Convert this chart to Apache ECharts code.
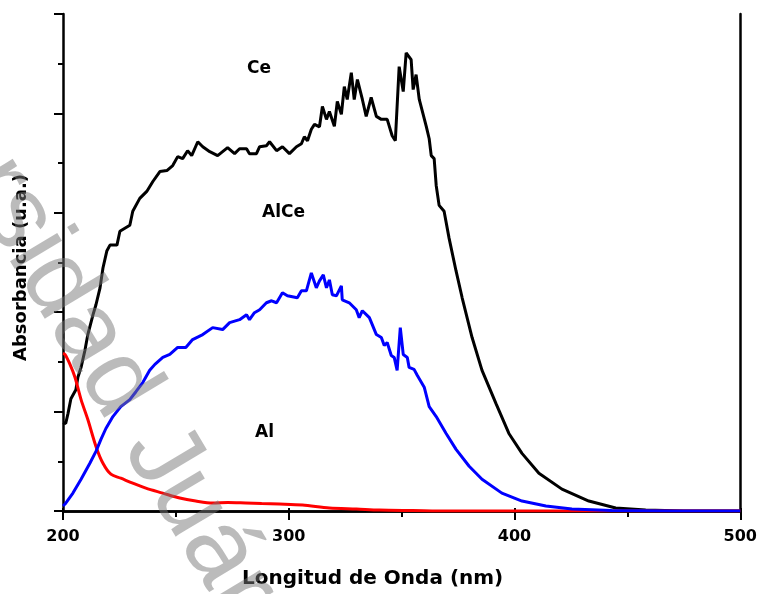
<!DOCTYPE html>
<html>
<head>
<meta charset="utf-8">
<script src="https://cdn.jsdelivr.net/npm/echarts@6/dist/echarts.min.js"></script>
<style>
html,body{margin:0;padding:0;background:#fff;}
#chart{width:760px;height:594px;}
</style>
</head>
<body>
<div id="chart"></div>
<script>
// Wavelength (nm) and absorbance (a.u.)
const ceX = [200,201.2,202.2,203.5,205.7,206.6,208.0,209.7,211.0,213.3,214.6,216.4,217.7,219.4,220.8,223.9,225.2,229.6,230.9,234.0,237.1,239.8,242.9,246.0,248.6,250.8,253.0,255.2,257.0,259.7,261.9,265.0,268.5,272.9,276.0,278.2,281.3,282.6,285.7,287.1,290.1,291.5,294.6,297.2,300.3,303.4,305.6,306.9,308.3,310.0,311.4,313.6,314.9,316.7,318.0,320.2,321.5,323.3,324.6,325.9,327.7,329.0,330.4,332.6,334.3,336.5,338.8,341.0,343.6,345.8,347.2,348.9,350.7,352.0,354.2,355.1,356.4,357.8,360.9,362.2,363.1,364.4,365.3,366.6,368.8,371.0,374.1,376.8,381.2,385.6,391.8,397.5,403.3,410.8,421.0,432.9,444.8,458.1,475,500];
const ceY = [1.78,1.76,1.96,2.26,2.44,2.69,2.89,3.23,3.55,3.95,4.15,4.49,4.89,5.23,5.35,5.35,5.63,5.75,6.03,6.29,6.43,6.63,6.83,6.85,6.95,7.13,7.09,7.25,7.15,7.43,7.33,7.23,7.15,7.31,7.19,7.29,7.29,7.19,7.19,7.33,7.35,7.43,7.25,7.33,7.19,7.33,7.39,7.53,7.45,7.68,7.78,7.73,8.14,7.88,8.04,7.74,8.24,7.98,8.54,8.28,8.82,8.28,8.68,8.28,7.94,8.32,7.94,7.88,7.88,7.55,7.45,8.94,8.44,9.22,9.08,8.48,8.78,8.28,7.74,7.49,7.15,7.09,6.55,6.15,6.03,5.49,4.83,4.29,3.49,2.83,2.16,1.56,1.16,0.76,0.44,0.20,0.06,0.02,0.0,0.0];

const alceX = [200,200.9,204.4,208.0,211.9,214.6,216.8,219.0,222.1,225.6,229.6,232.3,235.4,238.4,240.7,244.2,247.3,250.8,254.4,257.4,261.9,266.3,270.7,273.8,278.2,281.3,282.6,284.8,287.1,290.1,292.4,294.6,297.2,299.4,303.8,305.6,307.8,310.0,312.2,313.6,315.3,316.7,318.0,319.3,321.1,323.3,323.7,326.8,329.9,331.2,332.6,335.7,338.8,341.0,342.3,343.6,345.4,346.7,348.0,349.4,350.7,352.5,353.3,355.5,356.9,360.0,362.2,365.3,369.7,374.1,379.9,385.6,394.4,403.3,413.9,425.4,443.0,470,500];
const alceY = [0.10,0.14,0.36,0.64,0.96,1.20,1.44,1.66,1.90,2.10,2.24,2.40,2.59,2.83,2.95,3.09,3.15,3.29,3.29,3.45,3.55,3.69,3.65,3.79,3.85,3.95,3.85,3.99,4.05,4.19,4.23,4.19,4.39,4.33,4.29,4.43,4.43,4.79,4.49,4.63,4.75,4.49,4.65,4.35,4.33,4.53,4.25,4.19,4.05,3.89,4.03,3.89,3.55,3.49,3.33,3.39,3.13,3.09,2.83,3.69,3.15,3.09,2.89,2.85,2.73,2.49,2.10,1.90,1.56,1.24,0.90,0.64,0.36,0.20,0.10,0.04,0.01,0.0,0.0];

const alX = [200,200.9,203.1,205.3,208.0,211.0,214.6,217.7,221.2,225.6,230.9,236.7,244.2,251.7,258.8,266.3,273.0,280.9,288.0,295.9,306.1,318.0,330.0,340.1,355.0,371.0,420,500];
const alY = [3.17,3.15,2.95,2.69,2.24,1.84,1.30,0.96,0.74,0.66,0.56,0.46,0.36,0.26,0.20,0.16,0.17,0.16,0.15,0.14,0.12,0.06,0.04,0.02,0.01,0.0,0.0,0.0];

const xTicks = [200,300,400,500];
const seriesNames = ['Ce','AlCe','Al'];

function pairs(xs, ys){ return xs.map((x,i)=>[x, ys[i]]); }

const chart = echarts.init(document.getElementById('chart'));
const FONT = 'DejaVu Sans';
const axisLine = {show:true, lineStyle:{color:'#000', width:2.5}};

chart.setOption({
  animation:false,
  backgroundColor:'#fff',
  grid:{left:63, right:18, top:14, bottom:79, containLabel:false},
  xAxis:[{
    type:'value', min:200, max:500, interval:100,
    axisLine:axisLine,
    axisTick:{show:true, inside:false, length:9, lineStyle:{color:'#000', width:2}},
    minorTick:{show:true, splitNumber:2, length:6, lineStyle:{color:'#000', width:2}},
    splitLine:{show:false},
    axisLabel:{show:true, color:'#000', fontFamily:FONT, fontWeight:'bold', fontSize:16, margin:18,
      formatter:v=> xTicks.includes(v) ? String(v) : ''},
    name:'Longitud de Onda (nm)', nameLocation:'middle', nameGap:58,
    nameTextStyle:{color:'#000', fontFamily:FONT, fontWeight:'bold', fontSize:20, padding:[0,58,0,0]}
  },{
    type:'value', position:'top', min:200, max:500, interval:100,
    axisLine:axisLine,
    axisTick:{show:true, inside:false, length:3, lineStyle:{color:'#000', width:2}},
    minorTick:{show:false},
    axisLabel:{show:false}, splitLine:{show:false}
  }],
  yAxis:[{
    type:'value', min:0, max:10, interval:2,
    axisLine:axisLine,
    axisTick:{show:true, inside:false, length:9, lineStyle:{color:'#000', width:2}},
    minorTick:{show:true, splitNumber:2, length:5, lineStyle:{color:'#000', width:2}},
    splitLine:{show:false},
    axisLabel:{show:false},
    name:'Absorbancia (u.a.)', nameLocation:'middle', nameGap:33, nameRotate:90,
    nameTextStyle:{color:'#000', fontFamily:FONT, fontWeight:'bold', fontSize:18, padding:[0,10,0,0]}
  },{
    type:'value', position:'right', min:0, max:10, interval:2,
    axisLine:axisLine, axisTick:{show:false}, axisLabel:{show:false}, splitLine:{show:false}
  }],
  series:[
    {name:seriesNames[0], type:'line', data:pairs(ceX, ceY), showSymbol:false, smooth:false,
     lineStyle:{color:'#000000', width:3}, z:2},
    {name:seriesNames[2], type:'line', data:pairs(alX, alY), showSymbol:false, smooth:0.3,
     lineStyle:{color:'#ff0000', width:3}, z:3},
    {name:seriesNames[1], type:'line', data:pairs(alceX, alceY), showSymbol:false, smooth:false,
     lineStyle:{color:'#0000ff', width:3}, z:4}
  ],
  graphic:[
    {type:'text', left:247, top:60, style:{text:'Ce', font:'bold 17px "DejaVu Sans"', fill:'#000'}},
    {type:'text', left:262, top:204, style:{text:'AlCe', font:'bold 17px "DejaVu Sans"', fill:'#000'}},
    {type:'text', left:255, top:424, style:{text:'Al', font:'bold 17px "DejaVu Sans"', fill:'#000'}},
    {type:'text', x:-195, y:-35, rotation:-59*Math.PI/180, z:100,
     style:{text:'Universidad Juárez', font:'104px "Liberation Sans"', fill:'rgba(120,120,120,0.5)', verticalAlign:'bottom'}}
  ]
});
</script>
</body>
</html>
